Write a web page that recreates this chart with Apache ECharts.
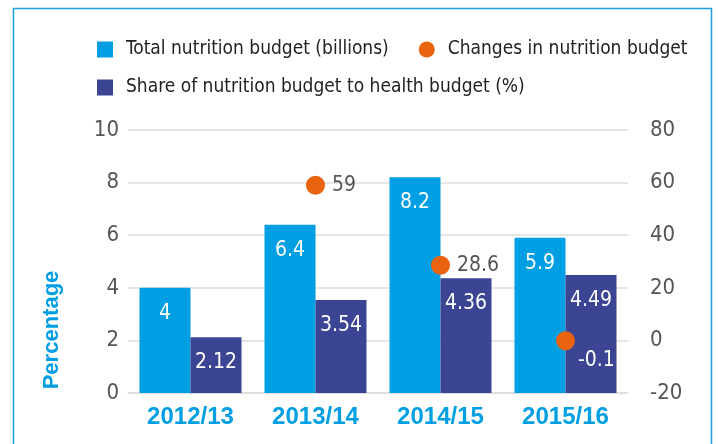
<!DOCTYPE html>
<html lang="en">
<head>
    <meta charset="UTF-8">
    <title>Nutrition budget</title>
    <script src="https://cdn.jsdelivr.net/npm/echarts@6/dist/echarts.min.js"></script>
    <style>
        html, body { margin: 0; padding: 0; background: #fff; }
    </style>
</head>
<body>
<div id="main" style="width: 718px;height:444px;"></div>
<script type="text/javascript">
    // data
    var years = ['2012/13', '2013/14', '2014/15', '2015/16'];
    var totalBudget = [4, 6.4, 8.2, 5.9];
    var shareOfHealth = [2.12, 3.54, 4.36, 4.49];
    var budgetChange = [null, 59, 28.6, -0.1];

    var NARROW = '"DejaVu Sans Condensed", "Liberation Sans Narrow", sans-serif';
    var BOLD = '"Liberation Sans", Arial, sans-serif';
    var LIGHT_BLUE = '#009FE3';
    var DARK_BLUE = '#3C4494';
    var ORANGE = '#EA640F';

    var changeData = budgetChange.map(function (v, i) {
        if (i === 3) {
            // last label sits on the dark bar, below right of the dot
            return {
                value: v,
                label: { color: '#fff', position: 'right', distance: 3, offset: [0, 20] }
            };
        }
        return v;
    });

    var legendText = { fontSize: 19, color: '#222', fontFamily: NARROW, padding: [0, 0, 0, 8] };

    var option = {
        animation: false,
        textStyle: { fontFamily: NARROW },
        legend: [
            {
                left: 97, top: 40, width: 620, padding: 0,
                itemWidth: 16, itemHeight: 16, itemGap: 30,
                textStyle: legendText,
                data: [
                    { name: 'Total nutrition budget (billions)', icon: 'rect' },
                    { name: 'Changes in nutrition budget', icon: 'circle' }
                ]
            },
            {
                left: 97, top: 78, width: 620, padding: 0,
                itemWidth: 16, itemHeight: 16,
                textStyle: legendText,
                data: [{ name: 'Share of nutrition budget to health budget (%)', icon: 'rect' }]
            }
        ],
        grid: { left: 128, right: 90, top: 130, bottom: 51 },
        xAxis: {
            type: 'category',
            data: years,
            axisTick: { show: false },
            axisLine: { lineStyle: { color: '#ddd', width: 1.5 } },
            axisLabel: {
                margin: 12,
                fontSize: 24,
                fontWeight: 'bold',
                color: LIGHT_BLUE,
                fontFamily: BOLD
            }
        },
        yAxis: [
            {
                type: 'value',
                min: 0, max: 10, interval: 2,
                axisLine: { show: false },
                axisTick: { show: false },
                splitLine: { lineStyle: { color: '#ddd', width: 1.5 } },
                axisLabel: { fontSize: 22, color: '#555', margin: 9, fontFamily: NARROW }
            },
            {
                type: 'value',
                min: -20, max: 80, interval: 20,
                axisLine: { show: false },
                axisTick: { show: false },
                splitLine: { show: false },
                axisLabel: { fontSize: 22, color: '#555', margin: 22, fontFamily: NARROW }
            }
        ],
        graphic: [
            {
                type: 'rect',
                shape: { x: 13.5, y: 8.5, width: 698, height: 460 },
                style: { fill: 'none', stroke: '#1DA1E0', lineWidth: 1.5 },
                silent: true
            },
            {
                type: 'text',
                x: 52, y: 330,
                rotation: Math.PI / 2,
                style: {
                    text: 'Percentage',
                    fontSize: 22,
                    fontWeight: 'bold',
                    fill: LIGHT_BLUE,
                    fontFamily: BOLD,
                    align: 'center',
                    verticalAlign: 'middle'
                }
            }
        ],
        series: [
            {
                name: 'Total nutrition budget (billions)',
                type: 'bar',
                barWidth: 51,
                barGap: '0%',
                itemStyle: { color: LIGHT_BLUE },
                label: { show: true, position: 'insideTop', distance: 15, color: '#fff', fontSize: 21, fontFamily: NARROW },
                data: totalBudget
            },
            {
                name: 'Share of nutrition budget to health budget (%)',
                type: 'bar',
                barWidth: 51,
                barGap: '0%',
                itemStyle: { color: DARK_BLUE },
                label: { show: true, position: 'insideTop', distance: 15, color: '#fff', fontSize: 21, fontFamily: NARROW },
                data: shareOfHealth
            },
            {
                name: 'Changes in nutrition budget',
                type: 'scatter',
                yAxisIndex: 1,
                symbol: 'circle',
                symbolSize: 19,
                itemStyle: { color: ORANGE, opacity: 1 },
                label: { show: true, position: 'right', distance: 7, color: '#555', fontSize: 21, fontFamily: NARROW },
                data: changeData
            }
        ]
    };

    var myChart = echarts.init(document.getElementById('main'));
    myChart.setOption(option);
</script>
</body>
</html>
